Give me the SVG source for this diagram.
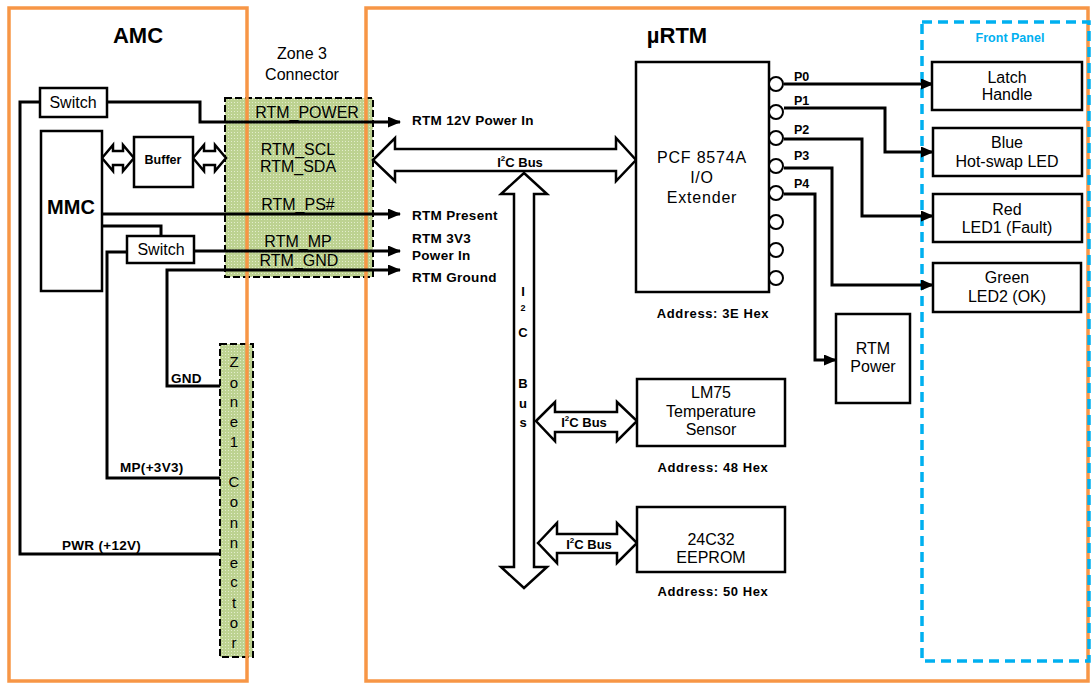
<svg xmlns="http://www.w3.org/2000/svg" width="1091" height="683" viewBox="0 0 1091 683">
<defs>
<marker id="ah" markerUnits="userSpaceOnUse" markerWidth="13" markerHeight="11" refX="12" refY="5.5" orient="auto"><path d="M0,0 L13,5.5 L0,11 z" fill="#000"/></marker>
<pattern id="dots" width="3" height="3" patternUnits="userSpaceOnUse"><rect width="3" height="3" fill="#bdd291"/><rect width="1" height="1" fill="#e3edcc"/></pattern>
</defs>
<style>
text{font-family:"Liberation Sans",Arial,sans-serif;fill:#000}
.b{font-weight:bold}
.m{text-anchor:middle}
.box{fill:#fff;stroke:#000;stroke-width:2.5}
.zone{fill:url(#dots);stroke:#000;stroke-width:2;stroke-dasharray:7 3}
.org{fill:none;stroke:#F79646;stroke-width:3.5}
.ln{fill:none;stroke:#000;stroke-width:3}
.ar{fill:none;stroke:#000;stroke-width:3;marker-end:url(#ah)}
.bus{fill:#fff;stroke:#000;stroke-width:2.5;stroke-linejoin:miter}
.pin{fill:#fff;stroke:#000;stroke-width:2}
.t16{font-size:16px}
.t13{font-size:13.5px}
</style>
<rect width="1091" height="683" fill="#fff"/>

<g id="zone3"><rect class="zone" x="225" y="98" width="148" height="179"/></g>
<g id="zone1"><rect class="zone" x="220" y="344" width="33" height="313"/></g>

<g id="amc"><rect class="org" x="9" y="8" width="238" height="673"/>
<text class="b m" x="138" y="43" font-size="22">AMC</text></g>
<g id="urtm"><rect class="org" x="366" y="8" width="722" height="673"/>
<text class="b m" x="677" y="43" font-size="22">µRTM</text></g>
<g id="frontpanel"><rect x="922" y="22" width="167" height="639" fill="none" stroke="#00B0F0" stroke-width="3.5" stroke-dasharray="10 6"/>
<text class="b m" x="1010" y="42" font-size="12.5" fill="#00B0F0" style="fill:#00B0F0">Front Panel</text></g>

<g id="zone3-labels" class="t16">
<text class="m" x="302" y="59">Zone 3</text>
<text class="m" x="302" y="80">Connector</text>
<text class="m" x="307" y="118">RTM_POWER</text>
<text class="m" x="298" y="155">RTM_SCL</text>
<text class="m" x="298" y="172">RTM_SDA</text>
<text class="m" x="298" y="210">RTM_PS#</text>
<text class="m" x="298" y="247">RTM_MP</text>
<text class="m" x="299" y="266">RTM_GND</text>
</g>
<g id="zone1-labels" class="m" font-size="15">
<text class="m" x="234" y="367">Z</text><text class="m" x="234" y="388">o</text><text class="m" x="234" y="407">n</text><text class="m" x="234" y="427">e</text><text class="m" x="234" y="447">1</text>
<text class="m" x="234" y="487">C</text><text class="m" x="234" y="507">o</text><text class="m" x="234" y="528">n</text><text class="m" x="234" y="548">n</text><text class="m" x="234" y="568">e</text><text class="m" x="234" y="587">c</text><text class="m" x="234" y="608">t</text><text class="m" x="234" y="628">o</text><text class="m" x="234" y="648">r</text>
</g>

<g id="connectors">
<polyline class="ar" points="107,102 200,102 200,122 400,122"/>
<polyline class="ln" points="40,102 20,102 20,554 220,554"/>
<polyline class="ar" points="102,214 400,214"/>
<polyline class="ln" points="102,226 161,226 161,236"/>
<polyline class="ar" points="194,251 400,251"/>
<polyline class="ln" points="127,252 107,252 107,478 220,478"/>
<polyline class="ar" points="220,386 167,386 167,270 400,270"/>
<polyline class="ar" points="784,84 933,84"/>
<polyline class="ar" points="784,108 885,108 885,152 933,152"/>
<polyline class="ar" points="784,139 862,139 862,216 933,216"/>
<polyline class="ar" points="784,168 832,168 832,285 933,285"/>
<polyline class="ar" points="784,194 815,194 815,360 836,360"/>
<path class="bus" d="M102,158 L113,145 L113,151 L123,151 L123,145 L134,158 L123,171 L123,165 L113,165 L113,171 Z"/>
<path class="bus" d="M193,158 L204,145 L204,151 L215,151 L215,145 L226,158 L215,171 L215,165 L204,165 L204,171 Z"/>
<path class="bus" d="M373,160 L395,138 L395,149 L616,149 L616,138 L636,160 L616,181 L616,171 L395,171 L395,181 Z"/>
<path class="bus" d="M524,173 L547,194 L534,194 L534,567 L547,567 L524,588 L501,567 L514,567 L514,194 L501,194 Z"/>
<path class="bus" d="M536,421 L555,402 L555,412 L617,412 L617,402 L637,421 L617,441 L617,432 L555,432 L555,441 Z"/>
<path class="bus" d="M538,543 L557,523 L557,534 L617,534 L617,523 L637,543 L617,563 L617,553 L557,553 L557,563 Z"/>
</g>

<g id="bus-labels" class="b" font-size="13">
<text class="m" x="520" y="167">I<tspan font-size="8" dy="-6">2</tspan><tspan dy="6">C Bus</tspan></text>
<text class="m" x="584" y="427">I<tspan font-size="8" dy="-6">2</tspan><tspan dy="6">C Bus</tspan></text>
<text class="m" x="589" y="549">I<tspan font-size="8" dy="-6">2</tspan><tspan dy="6">C Bus</tspan></text>
<text class="m" x="523" y="296">I</text>
<text class="m" x="523" y="311" font-size="9">2</text>
<text class="m" x="523" y="337">C</text>
<text class="m" x="523" y="388">B</text>
<text class="m" x="523" y="408">u</text>
<text class="m" x="523" y="427">s</text>
</g>

<g id="signal-labels" class="b t13" letter-spacing="0.3">
<text x="412" y="125">RTM 12V Power In</text>
<text x="412" y="220">RTM Present</text>
<text x="412" y="243">RTM 3V3</text>
<text x="412" y="260">Power In</text>
<text x="412" y="282">RTM Ground</text>
<text x="171" y="383">GND</text>
<text x="120" y="472">MP(+3V3)</text>
<text x="62" y="550">PWR (+12V)</text>
</g>

<g id="switch1"><rect class="box" x="40" y="88" width="67" height="29"/><text class="m t16" x="73" y="108">Switch</text></g>
<g id="mmc"><rect class="box" x="41" y="131" width="61" height="160"/><text class="b m" x="71" y="214" font-size="20">MMC</text></g>
<g id="buffer"><rect class="box" x="134" y="137" width="59" height="50"/><text class="b m" x="163" y="164" font-size="12.5">Buffer</text></g>
<g id="switch2"><rect class="box" x="127" y="236" width="67" height="27"/><text class="m t16" x="161" y="255">Switch</text></g>

<g id="pcf"><rect class="box" x="636" y="62" width="133" height="230"/>
<text class="m t16" x="702" y="163" letter-spacing="0.8">PCF 8574A</text>
<text class="m t16" x="702" y="183" letter-spacing="0.8">I/O</text>
<text class="m t16" x="702" y="203" letter-spacing="0.8">Extender</text>
<circle class="pin" cx="776" cy="84" r="7"/><circle class="pin" cx="776" cy="112" r="7"/><circle class="pin" cx="776" cy="138" r="7"/><circle class="pin" cx="776" cy="166" r="7"/><circle class="pin" cx="776" cy="193" r="7"/><circle class="pin" cx="776" cy="222" r="7"/><circle class="pin" cx="776" cy="250" r="7"/><circle class="pin" cx="776" cy="278" r="7"/>
<g class="b" font-size="12.5"><text x="794" y="81">P0</text><text x="794" y="105">P1</text><text x="794" y="134">P2</text><text x="794" y="160">P3</text><text x="794" y="188">P4</text></g>
<text class="b m" x="713" y="318" font-size="13" letter-spacing="0.6">Address: 3E Hex</text></g>

<g id="lm75"><rect class="box" x="637" y="379" width="148" height="67"/>
<text class="m t16" x="711" y="398">LM75</text><text class="m t16" x="711" y="417">Temperature</text><text class="m t16" x="711" y="435">Sensor</text>
<text class="b m" x="713" y="472" font-size="13" letter-spacing="0.6">Address: 48 Hex</text></g>

<g id="eeprom"><rect class="box" x="637" y="507" width="148" height="65"/>
<text class="m t16" x="711" y="545">24C32</text><text class="m t16" x="711" y="563">EEPROM</text>
<text class="b m" x="713" y="596" font-size="13" letter-spacing="0.6">Address: 50 Hex</text></g>

<g id="rtmpower"><rect class="box" x="836" y="314" width="74" height="89"/>
<text class="m t16" x="873" y="354">RTM</text><text class="m t16" x="873" y="372">Power</text></g>

<g id="latch"><rect class="box" x="932" y="62" width="150" height="48"/><text class="m t16" x="1007" y="83">Latch</text><text class="m t16" x="1007" y="100">Handle</text></g>
<g id="blue"><rect class="box" x="933" y="128" width="149" height="48"/><text class="m t16" x="1007" y="148">Blue</text><text class="m t16" x="1007" y="167">Hot-swap LED</text></g>
<g id="red"><rect class="box" x="933" y="194" width="149" height="48"/><text class="m t16" x="1007" y="215">Red</text><text class="m t16" x="1007" y="233">LED1 (Fault)</text></g>
<g id="green"><rect class="box" x="933" y="263" width="148" height="49"/><text class="m t16" x="1007" y="283">Green</text><text class="m t16" x="1007" y="302">LED2 (OK)</text></g>
</svg>
